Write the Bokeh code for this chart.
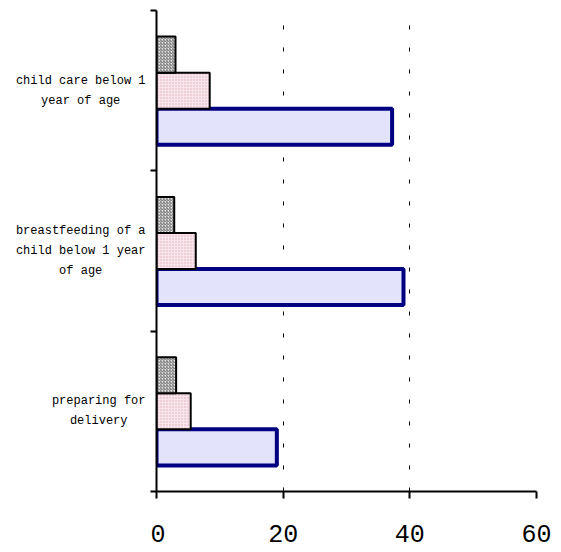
from bokeh.plotting import figure
from bokeh.layouts import row
from bokeh.models import Range1d, FixedTicker, ColumnDataSource
from bokeh.core.properties import value
from bokeh.embed import file_html
from bokeh.resources import INLINE

# categories listed bottom -> top
categories = ["preparing for\ndelivery",
              "breastfeeding of a\nchild below 1 year\nof age",
              "child care below 1\nyear of age"]
series_gray = [3.1, 2.8, 3.0]
series_pink = [5.4, 6.2, 8.4]
series_blue = [19.0, 39.0, 37.2]
x_ticks = [0, 20, 40, 60]

centers = [i + 0.5 for i in range(len(categories))]
bar_h = 0.225
TOP, BOTTOM = 10, 61
LEFT_W = 150

# ---- label panel (category names, lines centred within a right-aligned block)
char_w = 7.2
lab_x = [LEFT_W - 5 - max(len(s) for s in lab.split("\n")) * char_w / 2
         for lab in categories]
lp = figure(width=LEFT_W, height=552, output_backend="svg", toolbar_location=None,
            x_range=Range1d(0, LEFT_W), y_range=Range1d(0, len(categories)),
            min_border_left=0, min_border_right=0, min_border_top=TOP,
            min_border_bottom=BOTTOM)
lp.axis.visible = False
lp.grid.visible = False
lp.outline_line_color = None
lp.text(x=lab_x, y=centers, text=categories, text_align="center",
        text_baseline="middle", text_font=value("Liberation Mono"),
        text_font_size="12px", text_color="black", text_line_height=1.42)

# ---- main chart
p = figure(width=558 - LEFT_W, height=552, output_backend="svg", toolbar_location=None,
           x_range=Range1d(0, 60), y_range=Range1d(0, len(categories)),
           min_border_left=6, min_border_right=22, min_border_top=TOP,
           min_border_bottom=BOTTOM)
p.outline_line_color = None
p.background_fill_color = "white"

src = ColumnDataSource(dict(
    yc=centers,
    yg=[c + bar_h for c in centers],
    yb=[c - bar_h for c in centers],
    g=series_gray, k=series_pink, b=series_blue))

p.hbar(y="yb", right="b", left=0, height=bar_h, source=src,
       fill_color="#e3e3fb", line_color="#000080", line_width=4)
p.hbar(y="yc", right="k", left=0, height=bar_h, source=src,
       fill_color="#f7e6ec", hatch_pattern=".", hatch_color="#e6a9b8",
       hatch_scale=3, line_color="black", line_width=2)
p.hbar(y="yg", right="g", left=0, height=bar_h, source=src,
       fill_color="#e4e4e4", hatch_pattern="/", hatch_color="#707070",
       hatch_scale=3, hatch_weight=1, line_color="black", line_width=2)

# x axis
p.xaxis.ticker = FixedTicker(ticks=x_ticks)
p.xaxis.axis_line_width = 2
p.xaxis.major_tick_line_width = 2
p.xaxis.major_tick_out = 7
p.xaxis.major_tick_in = 0
p.xaxis.minor_tick_line_color = None
p.xaxis.major_label_text_font = "Liberation Mono"
p.xaxis.major_label_text_font_size = "25px"
p.xaxis.major_label_text_color = "black"
p.xaxis.major_label_standoff = 26

# y axis: ticks only at category boundaries
p.yaxis.ticker = FixedTicker(ticks=[], minor_ticks=list(range(len(categories) + 1)))
p.yaxis.axis_line_width = 2
p.yaxis.major_tick_line_color = None
p.yaxis.major_tick_out = 0
p.yaxis.major_tick_in = 0
p.yaxis.major_label_standoff = 0
p.yaxis.minor_tick_line_width = 2
p.yaxis.minor_tick_out = 6
p.yaxis.minor_tick_in = 0

p.ygrid.grid_line_color = None
p.xgrid.ticker = FixedTicker(ticks=x_ticks[1:])
p.xgrid.grid_line_color = "black"
p.xgrid.grid_line_width = 1
p.xgrid.grid_line_dash = "4 18"

layout = row(lp, p, spacing=0)
open("out.html", "w").write(file_html(layout, INLINE))
